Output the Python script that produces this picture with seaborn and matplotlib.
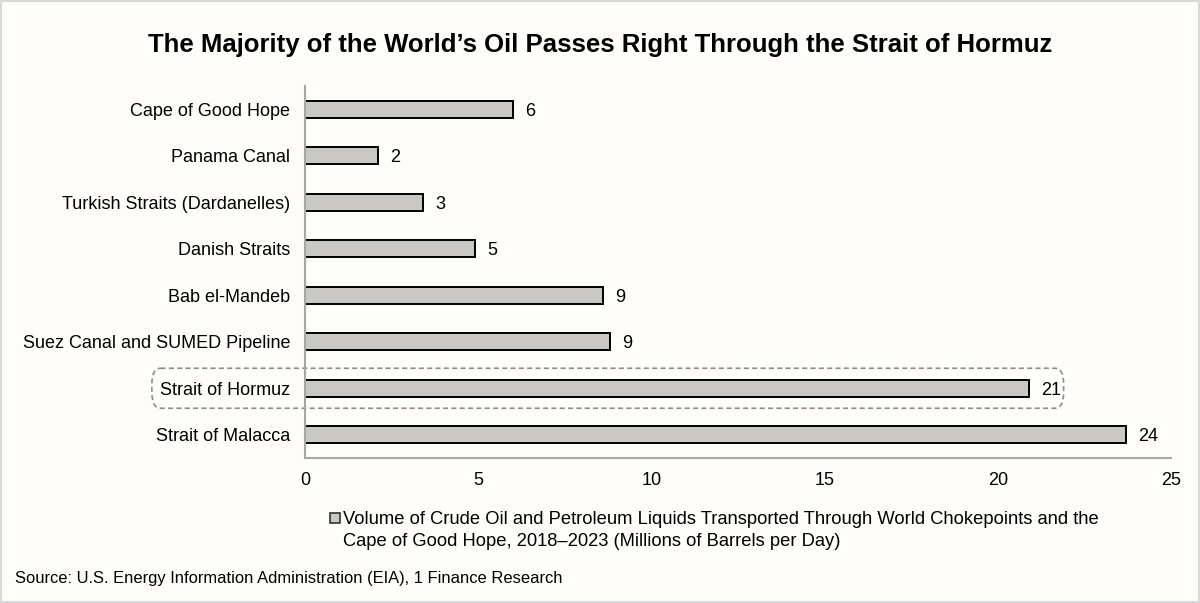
import matplotlib
matplotlib.use("Agg")
import matplotlib.pyplot as plt
import seaborn as sns
import pandas as pd
from matplotlib.patches import FancyBboxPatch, Rectangle

routes = ["Cape of Good Hope", "Panama Canal", "Turkish Straits (Dardanelles)",
          "Danish Straits", "Bab el-Mandeb", "Suez Canal and SUMED Pipeline",
          "Strait of Hormuz", "Strait of Malacca"]
volumes = [6.0, 2.1, 3.4, 4.9, 8.6, 8.8, 20.9, 23.7]
value_labels = ["6", "2", "3", "5", "9", "9", "21", "24"]
x_ticks = [0, 5, 10, 15, 20, 25]

title = "The Majority of the World\u2019s Oil Passes Right Through the Strait of Hormuz"
legend_text = ("Volume of Crude Oil and Petroleum Liquids Transported Through World Chokepoints and the\n"
               "Cape of Good Hope, 2018\u20132023 (Millions of Barrels per Day)")
source = "Source: U.S. Energy Information Administration (EIA), 1 Finance Research"

df = pd.DataFrame({"route": routes, "volume": volumes})

sns.set_theme(style="white")
plt.rcParams["font.family"] = ["Liberation Sans", "DejaVu Sans"]
plt.rcParams["text.color"] = "black"

W, H = 1200, 603
BG = "#FEFDF9"
BAR = "#C9C8C3"
fig = plt.figure(figsize=(W/100, H/100), dpi=100, facecolor=BG)
ax = fig.add_axes([305/W, 1 - 458/H, (1171-305)/W, (458-86)/H])
ax.set_facecolor(BG)

sns.barplot(data=df, x="volume", y="route", order=routes, color=BAR,
            edgecolor="black", linewidth=1.4, width=0.36, saturation=1, ax=ax)

ax.set_xlim(0, 25)
ax.set_xticks(x_ticks)
ax.set_xlabel("")
ax.set_ylabel("")
ax.tick_params(axis="x", labelsize=13, colors="black", length=0, pad=10)
ax.tick_params(axis="y", labelsize=13, colors="black", length=0, pad=10.5)
for s in ["top", "right"]:
    ax.spines[s].set_visible(False)
for s in ["left", "bottom"]:
    ax.spines[s].set_color("#A6A6A6")
    ax.spines[s].set_linewidth(1.5)

for t in ax.bar_label(ax.containers[0], labels=value_labels, padding=9,
                      fontsize=13, color="black"):
    t.set_va("center_baseline")

# dashed highlight box around Strait of Hormuz
hi = routes.index("Strait of Hormuz")
box = FancyBboxPatch((-4.42, hi - 0.43), volumes[hi] + 1.0 + 4.42, 0.86,
                     boxstyle="round,pad=0,rounding_size=0.25",
                     transform=ax.transData, clip_on=False, fill=False,
                     edgecolor="#8C8C8C", linestyle=(0, (3, 2)), linewidth=1.2,
                     mutation_aspect=46.5/34.65)
ax.add_patch(box)

fig.suptitle(title, x=0.5, y=1 - 45/H, va="center", fontsize=18.5,
             fontweight="bold", color="black")

# legend (series key)
fig.patches.append(Rectangle((330/W, 1 - 523/H), 10/W, 10/H, transform=fig.transFigure,
                             facecolor=BAR, edgecolor="#333333", linewidth=1.2))
fig.text(343/W, 1 - 511/H, legend_text, fontsize=13.2, va="top", ha="left",
         linespacing=1.38, color="black")

fig.text(15/W, 1 - 578/H, source, fontsize=11.9, va="center", ha="left", color="black")

fig.patches.append(Rectangle((0, 0), 1, 1, transform=fig.transFigure, fill=False,
                             edgecolor="#D9D9D9", linewidth=3))

fig.savefig("out.png", dpi=100, facecolor=BG)
